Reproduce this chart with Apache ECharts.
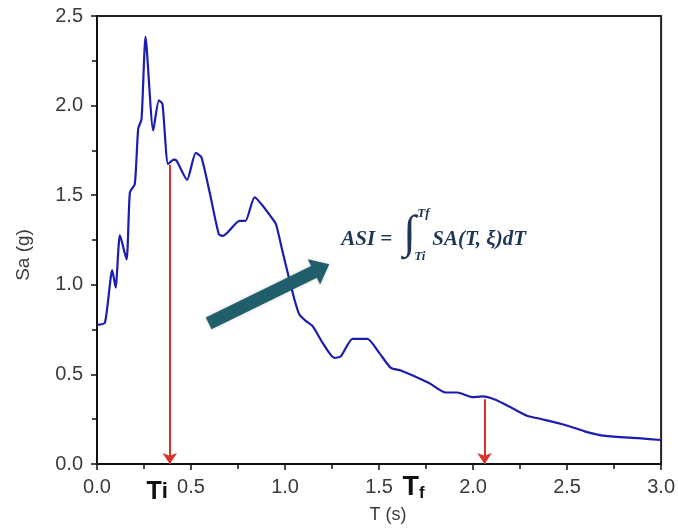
<!DOCTYPE html>
<html><head><meta charset="utf-8">
<script src="https://cdn.jsdelivr.net/npm/echarts@6/dist/echarts.min.js"></script>
<style>html,body{margin:0;padding:0;background:#fff}#c{width:678px;height:531px}</style>
</head><body><div id="c"></div>
<script>
// Period T (s)
const periodT = [0.000,0.042,0.081,0.099,0.122,0.157,0.175,0.201,0.219,0.237,0.258,0.299,0.329,0.348,0.378,0.408,0.423,0.479,0.525,0.555,0.599,0.648,0.670,0.758,0.790,0.838,0.935,0.953,0.988,1.023,1.050,1.076,1.112,1.147,1.200,1.262,1.297,1.359,1.438,1.501,1.563,1.616,1.766,1.854,1.916,1.995,2.048,2.119,2.207,2.287,2.366,2.490,2.597,2.703,2.879,3.000];
// Spectral acceleration Sa (g)
const spectralSa = [0.776,0.788,1.082,0.984,1.277,1.142,1.516,1.562,1.870,1.926,2.383,1.861,2.029,2.010,1.674,1.698,1.693,1.586,1.736,1.712,1.516,1.282,1.273,1.357,1.357,1.488,1.366,1.335,1.180,1.030,0.918,0.834,0.797,0.769,0.676,0.592,0.601,0.698,0.698,0.620,0.536,0.522,0.452,0.399,0.399,0.373,0.377,0.358,0.312,0.269,0.250,0.218,0.181,0.157,0.144,0.134];
// Integration limits
const limitT = [0.387, 2.061];
const limitSa = [1.668, 0.362];
const limitLabels = ['Ti', 'Tf'];
// Axis ticks
const xTicks = [0, 0.5, 1.0, 1.5, 2.0, 2.5, 3.0];
const yTicks = [0, 0.5, 1.0, 1.5, 2.0, 2.5];
const xName = 'T (s)';
const yName = 'Sa (g)';
const formulaParts = ['ASI = ', '∫', 'Tf', 'Ti', 'SA(T, ξ)dT'];

const chart = echarts.init(document.getElementById('c'));
const lineData = periodT.map((t, i) => [t, spectralSa[i]]);
const fmt = v => v.toFixed(1);
const labelColor = '#3a3a3a';

chart.setOption({
  animation: false,
  backgroundColor: '#fff',
  grid: { left: 97, right: 15, top: 16, bottom: 67, show: true, borderColor: '#222', borderWidth: 2, backgroundColor: 'transparent' },
  xAxis: {
    type: 'value', min: xTicks[0], max: xTicks[xTicks.length - 1], interval: xTicks[1] - xTicks[0],
    name: xName, nameLocation: 'middle', nameGap: 42,
    nameTextStyle: { fontSize: 18, color: labelColor, fontFamily: 'Liberation Sans', padding: [0, 0, 0, 18] },
    axisLine: { show: true, lineStyle: { color: '#111', width: 2 } },
    axisTick: { show: true, inside: false, length: 6, lineStyle: { color: '#111', width: 1.5 } },
    minorTick: { show: true, splitNumber: 2, length: 5, lineStyle: { color: '#111', width: 1.5 } },
    splitLine: { show: false },
    axisLabel: { fontSize: 20, color: labelColor, margin: 13, fontFamily: 'Liberation Sans', formatter: fmt }
  },
  yAxis: {
    type: 'value', min: yTicks[0], max: yTicks[yTicks.length - 1], interval: yTicks[1] - yTicks[0],
    name: yName, nameLocation: 'middle', nameGap: 64,
    nameTextStyle: { fontSize: 19, color: labelColor, fontFamily: 'Liberation Sans', padding: [0, 30, 0, 0] },
    axisLine: { show: true, lineStyle: { color: '#111', width: 2 } },
    axisTick: { show: true, inside: false, length: 6, lineStyle: { color: '#111', width: 1.5 } },
    minorTick: { show: true, splitNumber: 2, length: 5, lineStyle: { color: '#111', width: 1.5 } },
    splitLine: { show: false },
    axisLabel: { fontSize: 20, color: labelColor, margin: 14, fontFamily: 'Liberation Sans', formatter: fmt }
  },
  series: [{
    type: 'line', data: lineData, showSymbol: false, smooth: 0.2,
    lineStyle: { color: '#1c1cb0', width: 2.2 },
    markLine: {
      silent: true, symbol: ['none', 'arrow'], symbolSize: 11,
      label: { show: false },
      lineStyle: { color: '#d8322a', width: 2, type: 'solid' },
      data: limitT.map((t, i) => [{ coord: [t, limitSa[i]] }, { coord: [t, 0] }])
    }
  }]
});

// Annotations positioned from data coordinates
const px = p => chart.convertToPixel({ gridIndex: 0 }, p);
const arrowTail = px([0.594, 0.785]);
const arrowTip = px([1.235, 1.114]);
const dx = arrowTip[0] - arrowTail[0], dy = arrowTip[1] - arrowTail[1];
const L = Math.hypot(dx, dy);
const ux = dx / L, uy = dy / L, nx = -uy, ny = ux;
const headLen = 17, headHW = 14, shaftHW = 6.5;
const bx = arrowTip[0] - ux * headLen, by = arrowTip[1] - uy * headLen;
const arrowPts = [
  [arrowTail[0] + nx * shaftHW, arrowTail[1] + ny * shaftHW],
  [bx + nx * shaftHW, by + ny * shaftHW],
  [bx + nx * headHW, by + ny * headHW],
  arrowTip,
  [bx - nx * headHW, by - ny * headHW],
  [bx - nx * shaftHW, by - ny * shaftHW],
  [arrowTail[0] - nx * shaftHW, arrowTail[1] - ny * shaftHW]
];

const fAnchor = px([1.299, 1.254]);
const serif = 'Liberation Serif';
const navy = '#1f3557';
const tiPx = px([limitT[0], 0]);
const tfLabelPx = px([1.625, 0]);

chart.setOption({
  graphic: [
    { type: 'polygon', shape: { points: arrowPts }, style: { fill: '#215e6b', shadowBlur: 3, shadowColor: 'rgba(0,0,0,0.25)' }, z: 50 },
    { type: 'text', x: fAnchor[0], y: fAnchor[1], style: { text: formulaParts[0], font: 'italic bold 21px ' + serif, fill: navy, verticalAlign: 'middle', align: 'left' }, z: 60 },
    { type: 'text', x: fAnchor[0] + 62, y: fAnchor[1] - 4, style: { text: formulaParts[1], font: 'italic 46px ' + serif, fill: navy, verticalAlign: 'middle', align: 'left' }, z: 60 },
    { type: 'text', x: fAnchor[0] + 76, y: fAnchor[1] - 26, style: { text: formulaParts[2], font: 'italic bold 13px ' + serif, fill: navy, verticalAlign: 'middle', align: 'left' }, z: 60 },
    { type: 'text', x: fAnchor[0] + 73, y: fAnchor[1] + 17, style: { text: formulaParts[3], font: 'italic bold 13px ' + serif, fill: navy, verticalAlign: 'middle', align: 'left' }, z: 60 },
    { type: 'text', x: fAnchor[0] + 91, y: fAnchor[1], style: { text: formulaParts[4], font: 'italic bold 21px ' + serif, fill: navy, verticalAlign: 'middle', align: 'left' }, z: 60 },
    { type: 'text', x: tiPx[0] - 2, y: tiPx[1] + 28, style: { text: '{a|T}{b|i}', align: 'right', verticalAlign: 'middle', rich: { a: { font: 'bold 25px Liberation Sans', fill: '#111' }, b: { font: 'bold 22px Liberation Sans', fill: '#111' } } }, z: 60 },
    { type: 'text', x: tfLabelPx[0], y: tfLabelPx[1] + 24, style: { text: '{a|T}{b|f}', align: 'left', verticalAlign: 'middle', rich: { a: { font: 'bold 27px Liberation Sans', fill: '#111' }, b: { font: 'bold 17px Liberation Sans', fill: '#111', verticalAlign: 'bottom', padding: [6, 0, 0, 0] } } }, z: 60 }
  ]
});
</script></body></html>
